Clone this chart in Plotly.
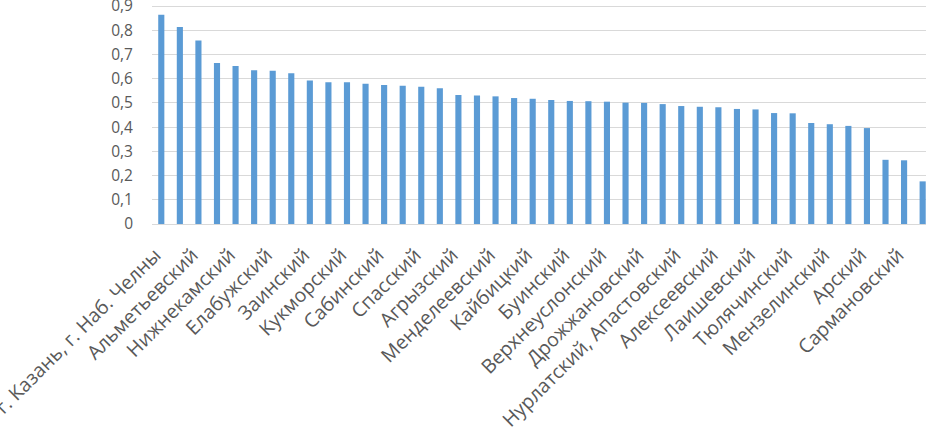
import plotly.graph_objects as go

labels = ["г. Казань, г. Наб. Челны", "Альметьевский", "Нижнекамский", "Елабужский",
          "Заинский", "Кукморский", "Сабинский", "Спасский", "Агрызский",
          "Менделеевский", "Кайбицкий", "Буинский", "Верхнеуслонский",
          "Дрожжановский", "Нурлатский, Апастовский", "Алексеевский", "Лаишевский",
          "Тюлячинский", "Мензелинский", "Арский", "Сармановский"]

values = [0.864, 0.813, 0.758, 0.665, 0.652, 0.635, 0.633, 0.622, 0.592, 0.585,
          0.585, 0.579, 0.574, 0.571, 0.567, 0.560, 0.533, 0.530, 0.527, 0.520,
          0.517, 0.512, 0.508, 0.507, 0.505, 0.501, 0.500, 0.495, 0.487, 0.484,
          0.482, 0.475, 0.473, 0.458, 0.457, 0.417, 0.412, 0.405, 0.396, 0.265,
          0.263, 0.176]

y_ticks = [0, 0.1, 0.2, 0.3, 0.4, 0.5, 0.6, 0.7, 0.8, 0.9]
y_ticktext = ["0", "0,1", "0,2", "0,3", "0,4", "0,5", "0,6", "0,7", "0,8", "0,9"]

x = list(range(len(values)))
label_pos = x[::2][:len(labels)]

fig = go.Figure(go.Bar(x=x, y=values, marker_color="#5b9bd5", marker_line_width=0, width=0.33))

font_fam = "Open Sans, Noto Sans, sans-serif"
fig.update_layout(
    width=926, height=428,
    margin=dict(l=152, r=0, t=3, b=204, autoexpand=False),
    paper_bgcolor="white", plot_bgcolor="white",
    showlegend=False,
    font=dict(family=font_fam, color="#595959", size=15),
)
fig.update_xaxes(
    range=[-0.5, 41.18], tickmode="array", tickvals=label_pos, ticktext=labels,
    tickangle=-45, showgrid=False, showline=True, linecolor="#d9d9d9", linewidth=1,
    ticks="", ticklabelstandoff=11, ticklabelshift=-6, ticklabeloverflow="allow",
    tickfont=dict(size=19.5, color="#595959"), automargin=False,
)
fig.update_yaxes(
    range=[0, 0.9124], tickmode="array", tickvals=y_ticks, ticktext=y_ticktext,
    showgrid=True, gridcolor="#d9d9d9", gridwidth=1, zeroline=False, showline=False,
    ticks="", ticklabelstandoff=18, ticklabeloverflow="allow",
    tickfont=dict(size=15.5, color="#595959"), automargin=False,
)

post = "document.body.style.margin='0';document.body.style.overflow='hidden';"
fig.write_html("out.html", post_script=post, config={"displayModeBar": False})
